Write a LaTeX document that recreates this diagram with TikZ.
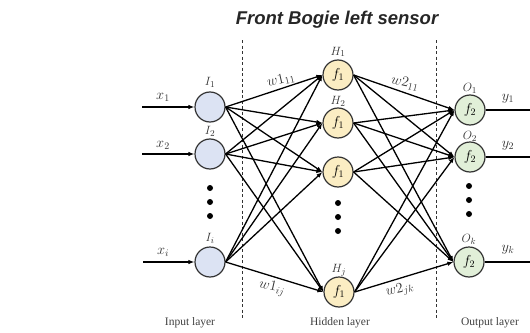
\documentclass[tikz,border=0pt]{standalone}
\usepackage{fontspec}
\setmainfont{Liberation Serif}
\newfontfamily\titlefont{Liberation Sans}
\usetikzlibrary{arrows.meta}
\definecolor{inblue}{HTML}{DCE3F3}
\definecolor{hidyel}{HTML}{FBEDC3}
\definecolor{outgrn}{HTML}{E1EFD8}
\definecolor{ringc}{HTML}{333333}
\tikzset{
  neuron/.style={circle, draw=ringc, line width=1.2pt, minimum size=30pt, inner sep=0pt, font=\fontsize{14}{14}\selectfont},
  innode/.style={neuron, fill=inblue},
  hidnode/.style={neuron, fill=hidyel},
  outnode/.style={neuron, fill=outgrn},
  conn/.style={line width=1.3pt, -{Latex[length=6pt,width=4.5pt]}},
  plainline/.style={line width=1.3pt},
  vdots/.style={circle, fill=black, inner sep=0pt, minimum size=6pt},
  lbl/.style={font=\fontsize{12.5}{12.5}\selectfont, text=black!80, inner sep=1pt},
  wlbl/.style={font=\fontsize{14}{14}\selectfont, text=black!80, inner sep=1pt},
  layerlbl/.style={font=\fontsize{11.5}{12}\selectfont, text=black!75},
  sep/.style={line width=0.9pt, dash pattern=on 3pt off 2.5pt, draw=black!80}
}
\begin{document}
\begin{tikzpicture}[x=1pt,y=-1pt]
\useasboundingbox (0,0) rectangle (530,332);
% title
\node[font=\titlefont\bfseries\itshape\fontsize{18.5}{20}\selectfont, text=black!85] (title) at (337,20) {Front Bogie left sensor};
% separators
\coordinate (s1a) at (242,40); \coordinate (s1b) at (242,320);
\coordinate (s2a) at (436,40); \coordinate (s2b) at (436,320);
\draw[sep] (s1a) -- (s1b);
\draw[sep] (s2a) -- (s2b);
% input nodes
\node[innode] (I1) at (210,107) {};
\node[innode] (I2) at (210,154) {};
\node[innode] (Ii) at (210,262) {};
\node[vdots] (di1) at (210,188) {};
\node[vdots] (di2) at (210,202) {};
\node[vdots] (di3) at (210,216) {};
% hidden nodes
\node[hidnode] (H1) at (338,75) {$f_1$};
\node[hidnode] (H2) at (338,123) {$f_1$};
\node[hidnode] (H3) at (338,172) {$f_1$};
\node[hidnode] (Hj) at (339,292) {$f_1$};
\node[vdots] (dh1) at (338,203) {};
\node[vdots] (dh2) at (338,217) {};
\node[vdots] (dh3) at (338,231) {};
% output nodes
\node[outnode] (O1) at (470,110) {$f_2$};
\node[outnode] (O2) at (470,157) {$f_2$};
\node[outnode] (Ok) at (469,262) {$f_2$};
\node[vdots] (do1) at (469,186) {};
\node[vdots] (do2) at (469,200) {};
\node[vdots] (do3) at (469,214) {};
% node labels
\node[lbl] (lI1) at (210,82) {$I_1$};
\node[lbl] (lI2) at (210,131) {$I_2$};
\node[lbl] (lIi) at (210,238) {$I_i$};
\node[lbl] (lH1) at (338,52) {$H_1$};
\node[lbl] (lH2) at (338,101) {$H_2$};
\node[lbl] (lHj) at (339,270) {$H_j$};
\node[lbl] (lO1) at (470,88) {$O_1$};
\node[lbl] (lO2) at (470,136) {$O_2$};
\node[lbl] (lOk) at (469,239) {$O_k$};
% inputs
\coordinate (x1s) at (142,107);
\coordinate (x2s) at (142,154);
\coordinate (xis) at (143,262);
\draw[conn] (x1s) -- (I1);
\draw[conn] (x2s) -- (I2);
\draw[conn] (xis) -- (Ii);
\node[wlbl] (lx1) at (163,97) {$x_1$};
\node[wlbl] (lx2) at (163,145) {$x_2$};
\node[wlbl] (lxi) at (163,252) {$x_i$};
% outputs
\coordinate (y1e) at (530,110);
\coordinate (y2e) at (530,157);
\coordinate (yke) at (530,262);
\draw[plainline] (O1) -- (y1e);
\draw[plainline] (O2) -- (y2e);
\draw[plainline] (Ok) -- (yke);
\node[wlbl] (ly1) at (508,99) {$y_1$};
\node[wlbl] (ly2) at (508,146) {$y_2$};
\node[wlbl] (lyk) at (508,250) {$y_k$};
% connections
\foreach \a in {I1,I2,Ii}
  \foreach \b in {H1,H2,H3,Hj}
    \draw[conn] (\a.east) -- (\b.west);
\foreach \a in {H1,H2,H3,Hj}
  \foreach \b in {O1,O2,Ok}
    \draw[conn] (\a.east) -- (\b.west);
% weight labels
\node[wlbl, rotate=13] (w111) at (281,80) {$w1_{11}$};
\node[wlbl, rotate=-13] (w211) at (405,83) {$w2_{11}$};
\node[wlbl, rotate=-13] (w1ij) at (272,288) {$w1_{ij}$};
\node[wlbl, rotate=12] (w2jk) at (400,290) {$w2_{jk}$};
% layer labels
\node[layerlbl] (Lin) at (190,323) {Input layer};
\node[layerlbl] (Lhid) at (340,323) {Hidden layer};
\node[layerlbl] (Lout) at (490,323) {Output layer};
\end{tikzpicture}
\end{document}
